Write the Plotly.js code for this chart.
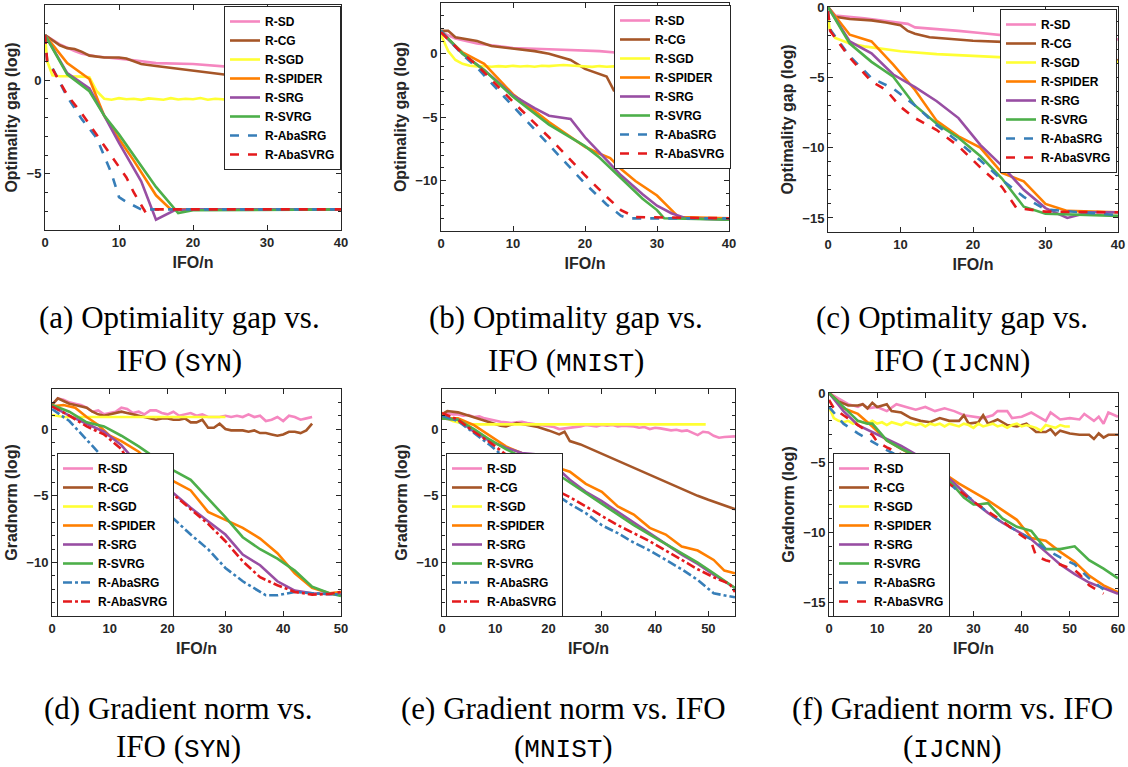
<!DOCTYPE html>
<html><head><meta charset="utf-8">
<script src="https://cdn.plot.ly/plotly-3.0.1.min.js"></script>
<style>html,body{margin:0;padding:0;background:#fff}#chart{width:1128px;height:767px}</style>
</head><body><div id="chart"></div>
<script>
// ---------- series names & colors ----------
const seriesNames = ['R-SD','R-CG','R-SGD','R-SPIDER','R-SRG','R-SVRG','R-AbaSRG','R-AbaSVRG'];
const seriesColors = ['#f587c0','#a65628','#ffff33','#ff7f00','#984ea3','#4daf4a','#377eb8','#e41a1c'];

// ---------- (a) Optimality gap vs IFO (SYN) ----------
const a_sd_x = [0,2,4,5,7,10,12,15,20,25,30,35,40];
const a_sd_y = [2.4,1.9,1.55,1.4,1.25,1.15,1.05,0.9,0.85,0.7,0.65,0.55,0.5];
const a_cg_x = [0,2,3,4,5,6,8,10,11,12,13,15,20,25,30,35,40];
const a_cg_y = [2.4,1.85,1.7,1.65,1.5,1.3,1.2,1.2,1.15,1.0,0.85,0.75,0.5,0.25,0.25,0.2,0.15];
const a_sgd_x = [0,0.3,1,2,3,4,5,6,7,8,9,10,11,12,13,14,15,16,17,18,19,20,21,22,23,24,25,26,27,28,29,30,31,32,33,34,35,36,37,38,39,40];
const a_sgd_y = [2.4,1.0,0.25,0.2,0.2,0.2,0.18,0.15,-0.6,-1.0,-1.05,-0.97,-1.03,-1.0,-1.06,-0.98,-1.02,-1.05,-0.97,-1.04,-1.0,-1.03,-0.96,-1.05,-1.0,-1.02,-1.06,-0.98,-1.03,-1.0,-1.05,-0.97,-1.02,-1.04,-0.99,-1.03,-1.0,-1.05,-0.98,-1.02,-1.03,-1.0];
const a_spider_x = [0,3,6,8,10,12,15,17,18,20,40];
const a_spider_y = [2.4,0.9,0.05,-1.9,-3.15,-4.3,-6.15,-6.9,-6.9,-6.9,-6.9];
const a_srg_x = [0,3,6,8,10,13,15,17.5,20,40];
const a_srg_y = [2.4,0.37,-0.45,-1.9,-3.35,-5.4,-7.45,-6.95,-6.9,-6.9];
const a_svrg_x = [0,3,6,8,10,12,15,18,20,40];
const a_svrg_y = [2.4,0.3,-0.6,-1.9,-2.9,-4.0,-5.7,-7.1,-6.95,-6.9];
const a_abasrg_x = [0,0.3,1,3,5,7,9,10,11,13,40];
const a_abasrg_y = [2.4,0.9,0.65,-0.9,-2.1,-3.1,-5.0,-6.25,-6.5,-6.9,-6.9];
const a_abasvrg_x = [0,0.3,1,3,5,8,10,11,12,13.5,14,40];
const a_abasvrg_y = [2.4,1.0,0.6,-0.8,-1.8,-3.5,-4.7,-5.2,-6.0,-7.0,-6.9,-6.9];

// ---------- (b) Optimality gap vs IFO (MNIST) ----------
const b_sd_x = [0,2,5,7,10,15,20,22,25,28,32,36,40];
const b_sd_y = [1.7,1.2,0.8,0.65,0.45,0.35,0.25,0.2,0.05,0.0,-0.15,-0.4,-0.8];
const b_cg_x = [0,1,2,4,5,7,10,13,15,18,20,21,23,24,25,26,30,35,40];
const b_cg_y = [1.8,1.8,1.3,1.1,1.0,0.6,0.4,0.2,0.0,-0.5,-1.2,-1.4,-1.8,-2.9,-3.1,-3.4,-4.8,-6.3,-8.0];
const b_sgd_x = [0,1,2,3,4,5,6,7,8,9,10,11,12,13,14,15,16,17,18,19,20,21,22,23,24,25,26,27,28,29,30,31,32,33,34,35,36,37,38,39,40];
const b_sgd_y = [1.5,0.2,-0.5,-0.8,-0.95,-1.0,-0.97,-1.03,-0.98,-1.02,-0.96,-1.01,-0.97,-1.03,-0.95,-0.98,-0.93,-0.9,-0.94,-0.97,-1.0,-1.04,-0.98,-1.03,-1.0,-1.05,-0.99,-1.02,-0.97,-1.01,-0.98,-1.03,-0.97,-1.0,-0.96,-0.99,-0.95,-0.98,-0.94,-0.97,-1.0];
const b_spider_x = [0,3,6,10,15,18,20,22,23.5,25,27,30,33,40];
const b_spider_y = [1.7,0.1,-0.8,-3.2,-5.4,-6.6,-7.35,-7.9,-8.25,-9.1,-10.05,-11.2,-12.9,-13.0];
const b_srg_x = [0,3,6,10,13,15,18,20,22,25,28,30,32,34,40];
const b_srg_y = [1.7,0.0,-1.3,-3.3,-4.3,-4.9,-5.15,-6.6,-7.8,-9.6,-11.1,-12.0,-12.6,-13.0,-13.1];
const b_svrg_x = [0,3,6,10,15,18,20,22,25,28,30,31,40];
const b_svrg_y = [1.8,0.0,-1.3,-3.4,-5.6,-6.6,-7.3,-8.2,-9.85,-11.45,-12.35,-13.0,-13.1];
const b_abasrg_x = [0,3,5,10,15,20,23,25,26,40];
const b_abasrg_y = [1.8,-0.1,-1.1,-4.15,-7.15,-10.25,-11.9,-12.8,-13.0,-13.0];
const b_abasvrg_x = [0,3,5,10,15,20,23,25,27,40];
const b_abasvrg_y = [1.7,0.0,-0.9,-3.8,-6.6,-9.6,-11.3,-12.35,-12.9,-13.0];

// ---------- (c) Optimality gap vs IFO (IJCNN) ----------
const c_sd_x = [0,1,5,8,10,11,12,15,18,21,25,28,32,36,40];
const c_sd_y = [0,-0.6,-0.8,-1.0,-1.15,-1.2,-1.45,-1.55,-1.7,-1.85,-2.05,-2.1,-2.2,-2.25,-2.3];
const c_cg_x = [0,1,3,6,8,10,11,12,14,17,20,25,30,35,40];
const c_cg_y = [0,-0.7,-0.85,-0.95,-1.1,-1.3,-1.7,-1.9,-2.15,-2.3,-2.4,-2.5,-2.8,-3.3,-3.8];
const c_sgd_x = [0,0.2,1,3,5,10,15,20,25,30,35,40];
const c_sgd_y = [-0.5,-1.5,-2.2,-2.6,-2.8,-3.15,-3.35,-3.5,-3.6,-3.7,-3.8,-3.9];
const c_spider_x = [0,3,6,9,12,15,18,21,24,27,30,33,40];
const c_spider_y = [0,-1.97,-2.45,-4.1,-5.9,-8.1,-9.2,-10.0,-11.8,-12.4,-14.0,-14.5,-14.6];
const c_srg_x = [0,3,6,9,12,15,18,21,24,27,30,33,36,40];
const c_srg_y = [0,-2.45,-3.3,-4.8,-5.7,-6.7,-7.9,-9.8,-11.3,-13.0,-14.3,-15.0,-14.6,-14.6];
const c_svrg_x = [0,3,6,9,12,15,18,21,24,27,30,40];
const c_svrg_y = [0,-2.6,-3.9,-4.95,-7.0,-8.3,-9.3,-10.6,-12.2,-14.2,-14.7,-14.85];
const c_abasrg_x = [0,0.3,3,6,9,12,15,18,21,24,27,30,40];
const c_abasrg_y = [-0.3,-1.6,-3.5,-5.05,-5.8,-7.0,-8.4,-9.6,-10.9,-12.3,-13.5,-14.4,-14.8];
const c_abasvrg_x = [0,0.3,3,6,8,10,12,15,18,21,24,26,30,40];
const c_abasvrg_y = [-0.3,-1.7,-3.6,-5.3,-5.9,-7.1,-7.9,-8.75,-9.9,-11.4,-12.8,-14.3,-14.55,-14.6];

// ---------- (d) Gradient norm vs IFO (SYN) ----------
const d_sd_x = [0,1,2,3,4,5,6,7,8,9,10,11,12,13,14,15,16,17,18,19,20,21,22,23,24,25,26,27,28,29,30,31,32,33,34,35,36,37,38,39,40,41,42,43,44,45];
const d_sd_y = [1.8,2.3,2.2,2.0,1.9,1.8,1.6,1.3,1.4,1.1,1.2,1.3,1.6,1.5,1.2,1.3,1.1,1.4,1.4,1.2,1.1,1.3,1.0,1.1,1.2,1.0,1.1,0.9,0.9,0.9,1.0,0.9,1.0,0.9,1.1,0.9,1.0,0.6,0.7,0.9,0.6,1.0,0.9,0.7,0.8,0.9];
const d_cg_x = d_sd_x;
const d_cg_y = [1.8,2.3,2.1,1.9,1.8,1.7,1.6,1.3,1.1,1.0,1.1,1.2,1.3,1.2,1.1,1.0,0.9,0.8,0.7,0.8,0.8,0.7,0.7,0.8,0.5,0.5,0.7,0.1,0.1,0.4,0.0,-0.1,-0.1,-0.1,-0.2,-0.1,-0.3,-0.3,-0.4,-0.5,-0.4,-0.2,-0.2,-0.3,-0.1,0.4];
const d_sgd_x = [0,1,2,5,10,15,20,25,30];
const d_sgd_y = [1.05,0.95,0.9,0.9,0.9,0.9,0.9,0.9,0.9];
const d_spider_x = [0,2,4,6,8,10,12,15,18,21,24,27,30,33,36,39,42,45,48,50];
const d_spider_y = [1.7,1.8,1.6,0.9,0.3,-0.5,-0.9,-1.7,-2.9,-3.9,-4.6,-6.2,-6.8,-7.4,-8.2,-9.3,-10.8,-11.9,-12.3,-12.2];
const d_srg_x = [0,3,6,9,12,15,18,21,24,27,30,33,36,39,42,45,50];
const d_srg_y = [1.7,1.0,0.4,-0.2,-1.2,-2.7,-3.7,-4.8,-5.9,-6.9,-7.9,-9.4,-10.2,-11.4,-12.1,-12.3,-12.4];
const d_svrg_x = [0,3,6,9,12,15,18,21,24,27,30,33,36,39,42,45,48,50];
const d_svrg_y = [1.8,1.3,0.5,0.2,-0.5,-1.3,-2.2,-3.1,-3.8,-5.2,-6.6,-8.1,-9.0,-9.7,-10.6,-11.8,-12.3,-12.5];
const d_abasrg_x = [0,3,6,9,12,15,18,21,24,27,30,33,36,37,39,42,45,50];
const d_abasrg_y = [1.5,0.6,-0.8,-2.2,-3.3,-4.3,-5.5,-6.7,-7.9,-9.0,-10.4,-11.4,-12.2,-12.45,-12.45,-12.2,-12.3,-12.4];
const d_abasvrg_x = [0,3,6,9,12,14,17,21,24,27,30,33,36,39,42,45,48,50];
const d_abasvrg_y = [1.7,1.0,0.2,-0.4,-1.5,-3.0,-3.6,-4.9,-6.0,-7.1,-8.4,-9.9,-11.1,-11.7,-12.2,-12.4,-12.35,-12.2];

// ---------- (e) Gradient norm vs IFO (MNIST) ----------
const e_sd_x = [0,1,2,3,4,5,6,7,8,9,10,11,12,13,14,15,16,17,18,19,20,21,22,23,24,25,26,27,28,29,30,31,32,33,34,35,36,37,38,39,40,41,42,43,44,45,46,47,48,49,50,51,52,53,54,55];
const e_sd_y = [1.0,1.2,1.1,1.1,1.0,1.05,0.9,0.95,0.8,0.7,0.6,0.55,0.5,0.45,0.5,0.55,0.45,0.4,0.35,0.3,0.25,0.15,0.0,0.05,0.1,0.1,0.2,0.3,0.25,0.2,0.3,0.25,0.3,0.2,0.25,0.25,0.2,0.1,0.15,0.0,0.1,0.05,0.0,-0.1,-0.05,-0.15,-0.1,-0.3,-0.45,-0.2,-0.25,-0.5,-0.65,-0.6,-0.6,-0.55];
const e_cg_x = [0,1,3,5,7,9,11,12,13,14,16,18,20,22,23,24,26,28,30,33,36,40,43,45,48,50,53,55];
const e_cg_y = [1.1,1.35,1.25,1.0,0.7,0.5,0.25,0.2,0.35,0.45,0.3,0.15,-0.1,-0.4,-0.2,-0.9,-1.15,-1.5,-1.85,-2.4,-2.9,-3.6,-4.1,-4.5,-5.0,-5.3,-5.7,-6.0];
const e_sgd_x = [0,1,2,4,6,10,15,20,25,30,35,40,45,49.5];
const e_sgd_y = [1.2,0.8,0.6,0.4,0.35,0.35,0.36,0.34,0.35,0.35,0.36,0.35,0.34,0.35];
const e_spider_x = [0,3,6,9,12,15,18,21,24,27,30,33,36,39,42,45,48,51,53,55];
const e_spider_y = [0.8,0.8,0.3,-0.5,-1.3,-1.8,-2.4,-2.8,-3.2,-4.1,-4.7,-5.8,-6.4,-7.4,-7.9,-8.8,-9.1,-9.8,-10.6,-10.8];
const e_srg_x = [0,3,6,9,12,15,18,21,24,27,30,33,36,39,42,45,48,51,55];
const e_srg_y = [0.8,0.7,-0.2,-0.9,-1.4,-1.8,-1.9,-2.7,-3.8,-4.7,-5.4,-6.2,-7.0,-7.8,-8.6,-9.4,-10.1,-10.9,-11.9];
const e_svrg_x = [0,3,6,9,12,15,18,21,24,27,30,33,36,39,42,45,48,51,55];
const e_svrg_y = [0.8,0.7,0.0,-0.8,-1.5,-2.1,-2.7,-3.2,-4.0,-4.8,-5.6,-6.4,-7.2,-7.9,-8.6,-9.3,-10.0,-10.8,-11.9];
const e_abasrg_x = [0,3,6,9,12,15,18,21,24,27,30,33,36,39,42,45,48,51,55];
const e_abasrg_y = [1.0,0.6,-0.3,-1.2,-2.2,-3.0,-3.9,-4.8,-5.6,-6.3,-7.2,-7.8,-8.5,-9.1,-9.8,-10.5,-11.3,-12.3,-12.6];
const e_abasvrg_x = [0,3,6,9,12,15,18,21,24,27,30,33,36,39,42,45,48,51,54,55];
const e_abasvrg_y = [1.2,0.7,-0.2,-1.0,-1.9,-2.8,-3.6,-4.5,-5.1,-5.8,-6.5,-7.2,-7.8,-8.4,-9.1,-9.8,-10.5,-11.1,-11.6,-12.2];

// ---------- (f) Gradient norm vs IFO (IJCNN) ----------
const f_sd_x = [0,2,4,6,7,8,10,12,14,16,18,20,22,24,26,28,30,32,34,35,37,38,40,42,43,45,46,48,50,52,53,55,56,57,58,60];
const f_sd_y = [0,-0.4,-0.8,-1.0,-0.8,-1.1,-1.0,-1.3,-0.8,-1.0,-1.2,-1.0,-1.3,-1.1,-1.3,-1.6,-1.7,-1.8,-1.6,-1.3,-1.3,-1.8,-1.7,-1.4,-1.6,-2.0,-1.4,-1.9,-1.8,-1.9,-1.5,-2.0,-1.7,-2.2,-1.4,-1.7];
const f_cg_x = [0,2,4,6,7,8,9,10,12,13,15,17,19,21,23,25,27,28,29,31,32,33,35,37,39,41,43,45,46,47,48,50,52,54,55,56,57,58,60];
const f_cg_y = [0,-0.6,-0.9,-0.9,-0.8,-1.1,-0.7,-1.0,-0.8,-1.3,-1.4,-1.8,-2.0,-2.1,-1.8,-2.0,-2.0,-1.6,-2.2,-2.1,-1.6,-2.2,-1.9,-2.3,-2.4,-2.2,-2.8,-2.8,-2.6,-3.0,-2.7,-2.9,-3.0,-3.0,-3.3,-2.9,-3.2,-3.0,-3.0];
const f_sgd_x = [0,1,2,3,4,5,6,7,8,9,10,11,12,13,14,15,16,17,18,19,20,21,22,23,24,25,26,27,28,29,30,31,32,33,34,35,36,37,38,39,40,41,42,43,44,45,46,47,48,49,50];
const f_sgd_y = [-1.0,-1.8,-2.0,-2.1,-2.0,-2.2,-2.0,-2.1,-2.2,-2.0,-2.2,-2.1,-2.3,-2.1,-2.2,-2.3,-2.1,-2.2,-2.3,-2.2,-2.4,-2.2,-2.3,-2.2,-2.4,-2.2,-2.3,-2.4,-2.2,-2.3,-2.5,-2.2,-2.4,-2.3,-2.2,-2.4,-2.3,-2.5,-2.3,-2.2,-2.4,-2.3,-2.4,-2.5,-2.7,-2.3,-2.4,-2.5,-2.3,-2.4,-2.4];
const f_spider_x = [0,3,6,9,12,15,18,21,24,27,30,33,36,39,42,45,48,51,54,57,60];
const f_spider_y = [0,-1.1,-1.5,-2.4,-3.4,-4.0,-4.6,-5.3,-5.8,-6.5,-7.1,-7.7,-8.4,-9.1,-10.4,-10.6,-11.4,-12.1,-13.1,-13.8,-14.3];
const f_srg_x = [0,3,6,9,12,15,18,21,24,27,30,33,36,39,42,45,48,51,54,57,60];
const f_srg_y = [0,-1.3,-2.3,-2.8,-3.3,-3.8,-4.4,-5.2,-5.8,-6.8,-7.8,-8.6,-9.3,-9.9,-10.5,-11.4,-12.3,-13.0,-13.6,-14.0,-14.4];
const f_svrg_x = [0,3,6,8,9,12,15,18,21,24,26,28,30,31,33,36,39,41,42,45,48,51,54,57,60];
const f_svrg_y = [0,-1.0,-2.0,-2.2,-2.2,-3.4,-4.0,-4.5,-5.2,-6.0,-6.7,-7.5,-8.0,-8.0,-7.9,-9.0,-9.6,-9.8,-9.9,-11.2,-11.2,-11.0,-12.0,-12.6,-13.3];
const f_abasrg_x = [0,3,6,9,12,15,18,21,24,27,30,33,36,39,42,45,48,51,54,57];
const f_abasrg_y = [-1.0,-2.2,-2.9,-3.5,-4.1,-4.6,-5.3,-5.8,-6.2,-7.1,-7.7,-8.6,-9.3,-9.9,-10.5,-11.2,-11.8,-12.3,-13.3,-14.1];
const f_abasvrg_x = [0,1,3,6,9,10,12,15,18,21,24,27,30,33,36,39,42,43,45,48,51,52,54,57];
const f_abasvrg_y = [-0.5,-1.1,-1.6,-2.3,-3.0,-3.5,-3.9,-4.4,-5.0,-5.6,-6.3,-7.0,-7.8,-8.5,-9.2,-10.0,-10.7,-11.7,-12.0,-12.3,-12.7,-13.0,-13.8,-14.4];

// ---------- axis / caption text ----------
const xTitle = 'IFO/n';
const yTitleTop = 'Optimality gap (log)';
const yTitleBottom = 'Gradnorm (log)';
const captionLine1 = ['(a) Optimiality gap vs.','(b) Optimality gap vs.','(c) Optimality gap vs.','(d) Gradient norm vs.','(e) Gradient norm vs. IFO','(f) Gradient norm vs. IFO'];
const captionPrefix2 = ['IFO (','IFO (','IFO (','IFO (','(','('];
const datasetNames = ['SYN','MNIST','IJCNN','SYN','MNIST','IJCNN'];

const panels = [
  {xs:[a_sd_x,a_cg_x,a_sgd_x,a_spider_x,a_srg_x,a_svrg_x,a_abasrg_x,a_abasvrg_x], ys:[a_sd_y,a_cg_y,a_sgd_y,a_spider_y,a_srg_y,a_svrg_y,a_abasrg_y,a_abasvrg_y]},
  {xs:[b_sd_x,b_cg_x,b_sgd_x,b_spider_x,b_srg_x,b_svrg_x,b_abasrg_x,b_abasvrg_x], ys:[b_sd_y,b_cg_y,b_sgd_y,b_spider_y,b_srg_y,b_svrg_y,b_abasrg_y,b_abasvrg_y]},
  {xs:[c_sd_x,c_cg_x,c_sgd_x,c_spider_x,c_srg_x,c_svrg_x,c_abasrg_x,c_abasvrg_x], ys:[c_sd_y,c_cg_y,c_sgd_y,c_spider_y,c_srg_y,c_svrg_y,c_abasrg_y,c_abasvrg_y]},
  {xs:[d_sd_x,d_cg_x,d_sgd_x,d_spider_x,d_srg_x,d_svrg_x,d_abasrg_x,d_abasvrg_x], ys:[d_sd_y,d_cg_y,d_sgd_y,d_spider_y,d_srg_y,d_svrg_y,d_abasrg_y,d_abasvrg_y]},
  {xs:[e_sd_x,e_cg_x,e_sgd_x,e_spider_x,e_srg_x,e_svrg_x,e_abasrg_x,e_abasvrg_x], ys:[e_sd_y,e_cg_y,e_sgd_y,e_spider_y,e_srg_y,e_svrg_y,e_abasrg_y,e_abasvrg_y]},
  {xs:[f_sd_x,f_cg_x,f_sgd_x,f_spider_x,f_srg_x,f_svrg_x,f_abasrg_x,f_abasvrg_x], ys:[f_sd_y,f_cg_y,f_sgd_y,f_spider_y,f_srg_y,f_svrg_y,f_abasrg_y,f_abasvrg_y]}
];

// ---------- geometry (pixels) ----------
const W = 1128, H = 767;
const boxes = [ // [left, right, top, bottom]
  [45,341,5,230],[441,729,3,231],[828,1118,7,232],
  [52,341,389,616],[442,735,389,616],[829,1118,393,616]
];
const xRanges = [[0,40],[0,40],[0,40],[0,50],[0,55],[0,60]];
const yRanges = [[-8,4],[-14,4],[-16,0],[-14,3],[-14,3],[-16,0]];
const legendPos = [[224,6],[614,5],[1000,9],[57,453],[446,453],[833,453]];
const captionPos = [[179,317,361],[566,317,361],[952,317,361],[178,708,747],[563,708,747],[952,708,747]];

const INK = '#262626';
const sans = 'Liberation Sans, Arial, sans-serif';
const traces = [];
const layout = {
  width: W, height: H, margin:{l:0,r:0,t:0,b:0},
  paper_bgcolor:'#fff', plot_bgcolor:'#fff', showlegend:true,
  font:{family:sans, color:INK},
  annotations: []
};

panels.forEach((p, i) => {
  const n = i + 1;
  const xk = n === 1 ? 'x' : 'x' + n;
  const yk = n === 1 ? 'y' : 'y' + n;
  const legKey = n === 1 ? 'legend' : 'legend' + n;
  const bottomRow = i >= 3;
  for (let s = 0; s < 8; s++) {
    let dash = 'solid';
    if (s >= 6) dash = (i === 3 || i === 4) ? 'dashdot' : 'dash';
    traces.push({
      type:'scatter', mode:'lines', x:p.xs[s], y:p.ys[s], name:seriesNames[s],
      xaxis:xk, yaxis:yk, legend:legKey,
      line:{color:seriesColors[s], width:2.6, dash:dash},
      hoverinfo:'skip'
    });
  }
  const b = boxes[i];
  const common = {
    showline:true, linecolor:INK, linewidth:1, mirror:'allticks',
    ticks:'inside', ticklen:5, tickcolor:INK, tickwidth:1,
    showgrid:false, zeroline:false, fixedrange:true, ticklabeloverflow:'allow',
    tickfont:{family:sans, size:13, color:INK, weight:'bold'}
  };
  layout['xaxis' + (n === 1 ? '' : n)] = Object.assign({}, common, {
    domain:[b[0]/W, b[1]/W], range:xRanges[i], anchor:yk, dtick:10, tick0:0,
    title:{text:xTitle, font:{family:sans, size:16, color:INK, weight:'bold'}, standoff:8}
  });
  layout['yaxis' + (n === 1 ? '' : n)] = Object.assign({}, common, {
    domain:[1 - b[3]/H, 1 - b[2]/H], range:yRanges[i], anchor:xk, dtick:5, tick0:0,
    minor:{dtick:1, ticks:'inside', ticklen:3, tickcolor:INK, showgrid:false},
    title:{text: bottomRow ? yTitleBottom : yTitleTop, font:{family:sans, size:16, color:INK, weight:'bold'}, standoff:4}
  });
  const lp = legendPos[i];
  layout[legKey] = {
    x: lp[0]/W, y: 1 - lp[1]/H, xanchor:'left', yanchor:'top',
    bgcolor:'#fff', bordercolor:INK, borderwidth:1,
    font:{family:sans, size:12, color:'#000', weight:'bold'},
    itemwidth:30, tracegroupgap:0
  };
  const cp = captionPos[i];
  layout.annotations.push({
    xref:'paper', yref:'paper', x:cp[0]/W, y:1 - cp[1]/H, xanchor:'center', yanchor:'middle',
    text:captionLine1[i], showarrow:false,
    font:{family:'Liberation Serif, serif', size:31, color:'#000'}
  });
  layout.annotations.push({
    xref:'paper', yref:'paper', x:cp[0]/W, y:1 - cp[2]/H, xanchor:'center', yanchor:'middle',
    text:captionPrefix2[i] + '<span style="font-family:Liberation Mono, monospace;font-size:26px">' + datasetNames[i] + '</span>)',
    showarrow:false,
    font:{family:'Liberation Serif, serif', size:31, color:'#000'}
  });
});

Plotly.newPlot('chart', traces, layout, {staticPlot:true, displayModeBar:false});
</script>
</body></html>
